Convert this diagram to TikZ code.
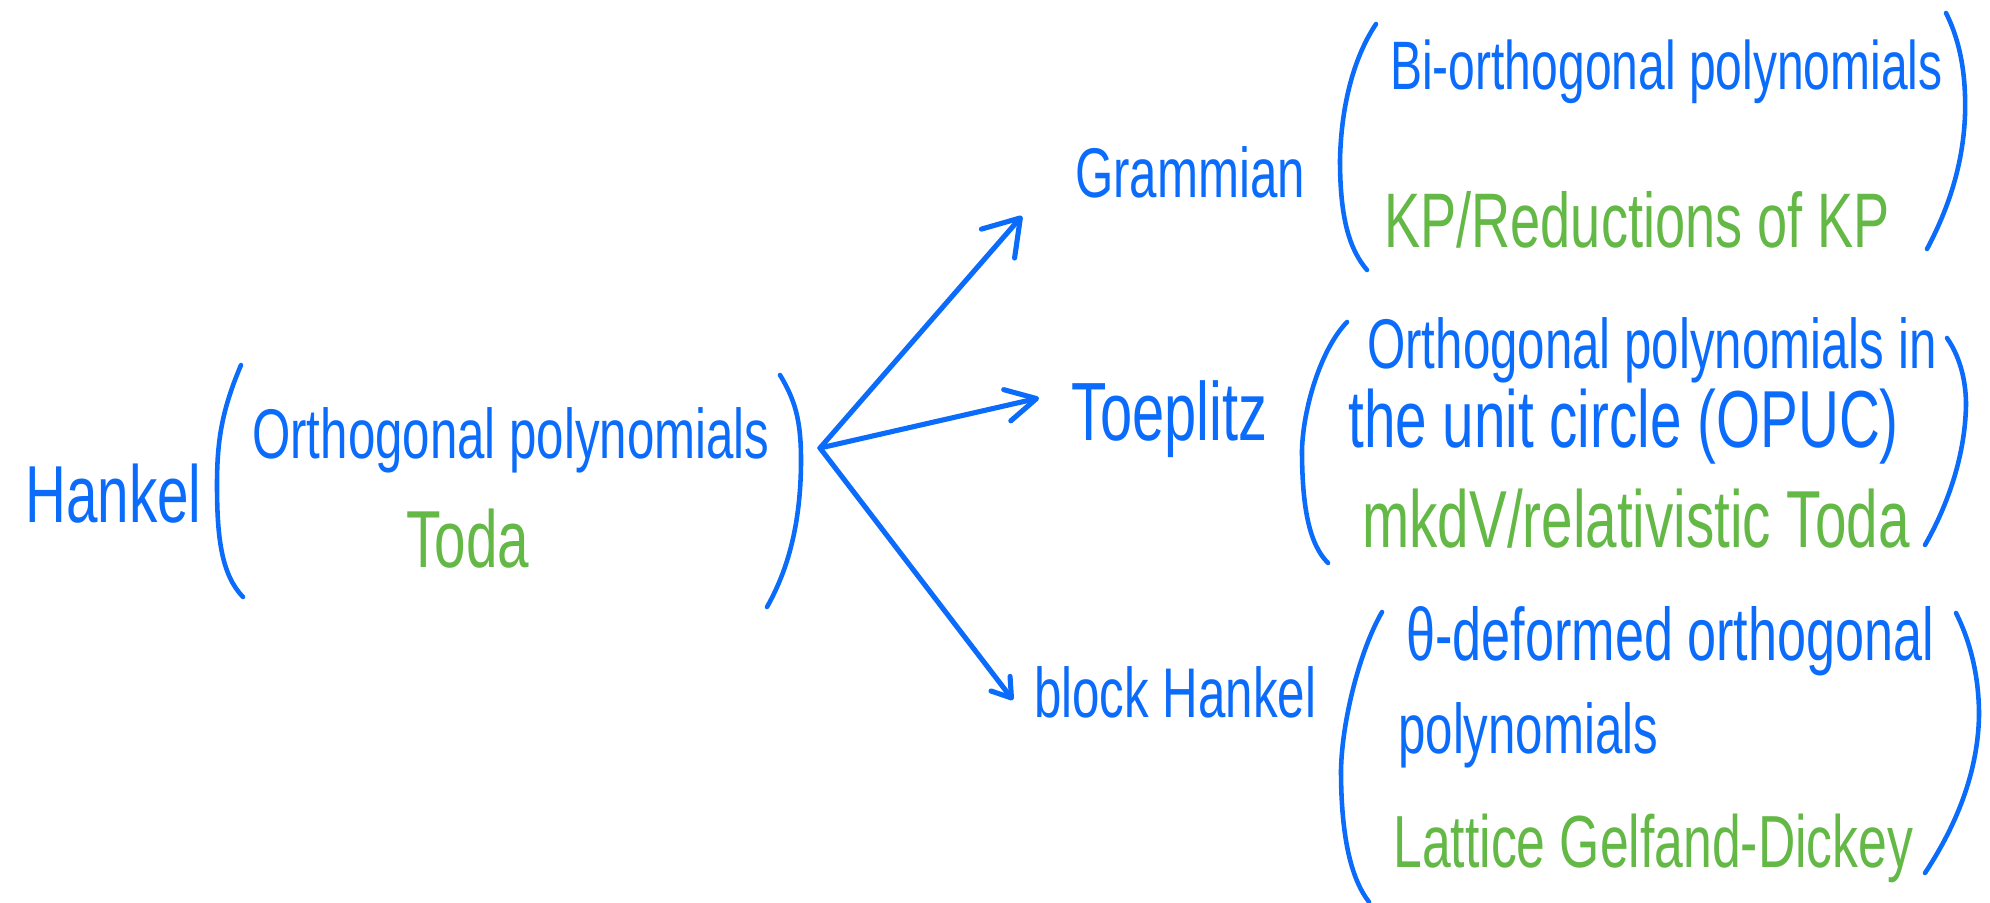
\documentclass[tikz,border=0pt]{standalone}
\usepackage{fontspec}
\setmainfont{Liberation Sans}[FakeStretch=0.7]
\usetikzlibrary{arrows.meta}
\definecolor{cblue}{HTML}{0B6CFB}
\definecolor{cgreen}{HTML}{63B846}
\tikzset{
  every picture/.style={line width=1.3pt, line cap=round, line join=round},
  hw/.style={font=\fontsize{#1}{#1}\selectfont, inner sep=0pt, anchor=base west, text=cblue},
  hw/.default=20,
  todo/.style={text=cgreen},
  paren/.style={draw=cblue, line width=1.3pt},
  arrow/.style 2 args={draw=cblue, line width=1.45pt, -{Straight Barb[length=#1, width=#2, round]}},
}

\begin{document}
\begin{tikzpicture}[x=0.01cm, y=-0.01cm]
  \useasboundingbox (0,0) rectangle (1990,903);
  % ---------- Hankel ----------
  \node[hw=23] (hankel) at (23, 522) {Hankel};
  \node[hw] (opA) at (250, 458) {Orthogonal polynomials};
  \node[hw=23, todo] (toda) at (404, 567) {Toda};
  \draw[paren] (241,365) .. controls (222,410) and (217,440) .. (217,485)
               .. controls (217,540) and (222,575) .. (243,597);
  \draw[paren] (780,375) .. controls (795,400) and (801,420) .. (801,460)
               .. controls (801,530) and (785,575) .. (767,607);
  % ---------- Grammian ----------
  \node[hw] (gram) at (1073, 197) {Grammian};
  \node[hw=19.5] (biop) at (1388, 90) {Bi-orthogonal polynomials};
  \node[hw=22, todo] (kp) at (1382, 247) {KP/Reductions of KP};
  \draw[paren] (1376,24) .. controls (1352,60) and (1341,110) .. (1340,160)
               .. controls (1340,220) and (1350,250) .. (1367,270);
  \draw[paren] (1946,13) .. controls (1962,45) and (1966,80) .. (1965,115)
               .. controls (1963,170) and (1945,215) .. (1927,249);
  % ---------- Toeplitz ----------
  \node[hw=23.5] (toep) at (1069, 440) {Toeplitz};
  \node[hw] (opuc1) at (1365, 368) {Orthogonal polynomials in};
  \node[hw=23] (opuc2) at (1346, 447) {the unit circle (OPUC)};
  \node[hw=23, todo] (mkdv) at (1360, 547) {mkdV/relativistic Toda};
  \draw[paren] (1347,322) .. controls (1320,350) and (1303,410) .. (1302,450)
               .. controls (1302,510) and (1310,545) .. (1328,563);
  \draw[paren] (1947,338) .. controls (1962,360) and (1966,385) .. (1966,405)
               .. controls (1965,460) and (1945,510) .. (1925,545);
  % ---------- block Hankel ----------
  \node[hw] (bhank) at (1032, 717) {block Hankel};
  \node[hw=21.2] (theta1) at (1404, 660) {θ-deformed orthogonal};
  \node[hw] (theta2) at (1396, 753) {polynomials};
  \node[hw=21, todo] (lgd) at (1391, 867) {Lattice Gelfand-Dickey};
  \draw[paren] (1382,612) .. controls (1360,650) and (1342,720) .. (1341,770)
               .. controls (1341,840) and (1352,880) .. (1369,902);
  \draw[paren] (1956,613) .. controls (1972,645) and (1979,680) .. (1979,715)
               .. controls (1978,780) and (1950,835) .. (1925,873);
  % ---------- arrows ----------
  \coordinate (src) at (820, 448);
  \coordinate (tipG) at (1022, 216);
  \coordinate (tipT) at (1039, 398);
  \coordinate (tipB) at (1013, 700);
  \draw[arrow={3.4mm}{4.4mm}] (src) -- (tipG);
  \draw[arrow={3mm}{3.2mm}] (src) -- (tipT);
  \draw[arrow={1.8mm}{2.4mm}] (src) -- (tipB);
\end{tikzpicture}
\end{document}
